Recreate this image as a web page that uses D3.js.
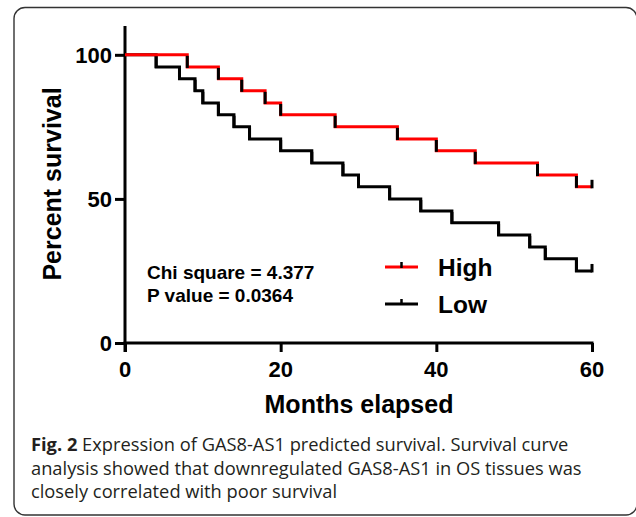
<!DOCTYPE html>
<html lang="en">
<head>
    <meta charset="UTF-8">
    <title>GAS8-AS1 survival curve</title>
    <script src="https://d3js.org/d3.v7.min.js"></script>
    <style>
        body { margin: 0; background-color: #fff; }
        .axis-label, .tick-label, .stat, .legend-label { font-family: "Liberation Sans", Arial, sans-serif; font-weight: bold; fill: #000; }
        .caption { font-family: "Open Sans", sans-serif; font-size: 18.3px; fill: #231f20; }
    </style>
</head>
<body>
    <div id="chart"></div>
    <script type="text/javascript">
        // Kaplan-Meier steps (months, percent survival)
        const highMonths = [0, 8, 12, 15, 18, 20, 27, 35, 40, 45, 53, 58, 60];
        const highSurvival = [100, 95.8, 91.7, 87.5, 83.3, 79.2, 75, 70.8, 66.7, 62.5, 58.3, 54.2, 54.2];
        const lowMonths = [0, 4, 7, 9, 10, 12, 14, 16, 20, 24, 28, 30, 34, 38, 42, 48, 52, 54, 58, 60];
        const lowSurvival = [100, 95.8, 91.7, 87.5, 83.3, 79.2, 75, 70.8, 66.7, 62.5, 58.3, 54.2, 50, 45.8, 41.7, 37.5, 33.3, 29.2, 25, 25];
        const xTicks = [0, 20, 40, 60];
        const yTicks = [0, 50, 100];
        const seriesNames = ["High", "Low"];
        const seriesColors = ["#ff0000", "#000000"];
        const statLines = ["Chi square = 4.377", "P value = 0.0364"];
        const captionLines = [
            ["Fig. 2", " Expression of GAS8-AS1 predicted survival. Survival curve"],
            ["", "analysis showed that downregulated GAS8-AS1 in OS tissues was"],
            ["", "closely correlated with poor survival"]
        ];

        const W = 636, H = 517;
        const svg = d3.select("#chart").append("svg")
            .attr("width", W)
            .attr("height", H);

        // figure frame (right edge falls just outside the picture)
        svg.append("rect")
            .attr("x", 14).attr("y", 7.5)
            .attr("width", 623).attr("height", 507.5)
            .attr("rx", 11).attr("ry", 11)
            .attr("fill", "none")
            .attr("stroke", "#333")
            .attr("stroke-width", 1.4);

        const x = d3.scaleLinear().domain([0, 60]).range([125, 592]);
        const y = d3.scaleLinear().domain([0, 110]).range([343, 26]);

        const g = svg.append("g");

        // axes
        const xAxis = g.append("g")
            .attr("transform", "translate(0," + y(0) + ")")
            .call(d3.axisBottom(x).tickValues(xTicks).tickSize(9).tickFormat(""));
        const yAxis = g.append("g")
            .attr("transform", "translate(" + x(0) + ",0)")
            .call(d3.axisLeft(y).tickValues(yTicks).tickSize(10).tickFormat(""));
        [xAxis, yAxis].forEach(a => {
            a.select(".domain").remove();
            a.selectAll(".tick line").attr("stroke", "#000").attr("stroke-width", 3);
        });
        // axis lines (y axis crosses slightly below the x axis)
        g.append("line")
            .attr("x1", x(0) - 1.5).attr("x2", x(60) + 1.5)
            .attr("y1", y(0)).attr("y2", y(0))
            .attr("stroke", "#000").attr("stroke-width", 3);
        g.append("line")
            .attr("x1", x(0)).attr("x2", x(0))
            .attr("y1", y(110)).attr("y2", y(0) + 9)
            .attr("stroke", "#000").attr("stroke-width", 3);

        g.selectAll(".xt").data(xTicks).join("text")
            .attr("class", "tick-label")
            .attr("x", d => x(d)).attr("y", 377)
            .attr("text-anchor", "middle")
            .style("font-size", "22px")
            .text(d => d);
        g.selectAll(".yt").data(yTicks).join("text")
            .attr("class", "tick-label")
            .attr("x", 112).attr("y", d => y(d) + 8)
            .attr("text-anchor", "end")
            .style("font-size", "22px")
            .text(d => d);

        g.append("text")
            .attr("class", "axis-label")
            .attr("x", 359).attr("y", 413)
            .attr("text-anchor", "middle")
            .style("font-size", "25px")
            .text("Months elapsed");
        g.append("text")
            .attr("class", "axis-label")
            .attr("transform", "translate(61,184) rotate(-90)")
            .attr("text-anchor", "middle")
            .style("font-size", "25px")
            .text("Percent survival");

        // survival curves
        const step = d3.line()
            .x(d => x(d[0]))
            .y(d => y(d[1]))
            .curve(d3.curveStepAfter);

        const series = [
            { name: "Low", months: lowMonths, surv: lowSurvival, color: seriesColors[1] },
            { name: "High", months: highMonths, surv: highSurvival, color: seriesColors[0] }
        ];

        series.forEach(s => {
            const pts = s.months.map((m, i) => [m, s.surv[i]]);
            g.append("path")
                .attr("d", step(pts))
                .attr("fill", "none")
                .attr("stroke", s.color)
                .attr("stroke-width", 3);
            // drop segments drawn dark
            const drops = pts.slice(1).filter((p, i) => p[1] < pts[i][1]);
            g.selectAll(null).data(drops).join("line")
                .attr("x1", d => x(d[0])).attr("x2", d => x(d[0]))
                .attr("y1", d => y(pts[pts.indexOf(d) - 1][1]) + 1)
                .attr("y2", d => y(d[1]) + 1)
                .attr("stroke", "#000")
                .attr("stroke-width", 3);
            // censor tick at last follow-up
            const last = pts[pts.length - 1];
            g.append("line")
                .attr("x1", x(last[0])).attr("x2", x(last[0]))
                .attr("y1", y(last[1]) + 1.5).attr("y2", y(last[1]) - 7)
                .attr("stroke", "#000")
                .attr("stroke-width", 3);
        });

        // stats text
        g.selectAll(".stat").data(statLines).join("text")
            .attr("class", "stat")
            .attr("x", 147).attr("y", (d, i) => 279 + i * 22.5)
            .style("font-size", "19px")
            .text(d => d);

        // legend
        const legend = g.selectAll(".legend").data(seriesNames).join("g")
            .attr("transform", (d, i) => "translate(385," + (267 + i * 37) + ")");
        legend.append("line")
            .attr("x1", 0).attr("x2", 33)
            .attr("stroke", (d, i) => seriesColors[i])
            .attr("stroke-width", 3);
        legend.append("line")
            .attr("x1", 16.5).attr("x2", 16.5)
            .attr("y1", 1).attr("y2", -5)
            .attr("stroke", "#000")
            .attr("stroke-width", 2.5);
        legend.append("text")
            .attr("class", "legend-label")
            .attr("x", 53).attr("y", 9)
            .style("font-size", "24.5px")
            .text(d => d);

        // caption
        const cap = svg.selectAll(".caption").data(captionLines).join("text")
            .attr("class", "caption")
            .attr("x", 31).attr("y", (d, i) => 451 + i * 23.5);
        cap.append("tspan").style("font-weight", "bold").text(d => d[0]);
        cap.append("tspan").text(d => d[1]);
    </script>
</body>
</html>
